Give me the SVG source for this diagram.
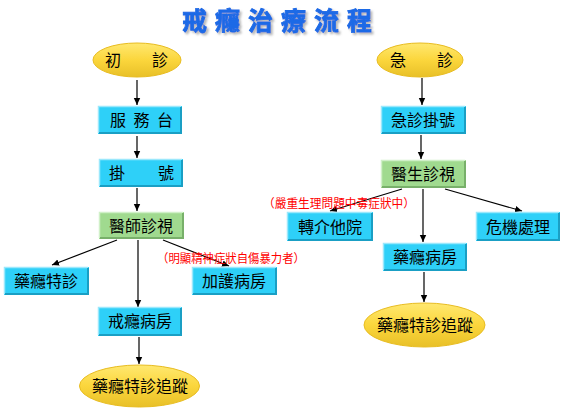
<svg xmlns="http://www.w3.org/2000/svg" width="568" height="417" viewBox="0 0 568 417">
<style>
.lbl{font-family:"Noto Sans CJK TC","Noto Sans CJK SC",sans-serif;font-size:16px;fill:#000;text-anchor:middle}
.red{font-family:"Noto Sans CJK TC","Noto Sans CJK SC",sans-serif;font-size:12px;fill:#ff0000}
.box{fill:#2ed0f8}
.gbox{fill:#a0da8f}
.hi{fill:none;stroke:#9ae8fc;stroke-width:1.5}
.lo{fill:none;stroke:#1a9fc4;stroke-width:2}
.ghi{fill:none;stroke:#d0f0c8;stroke-width:1.5}
.glo{fill:none;stroke:#78b06a;stroke-width:2}
.ell{fill:url(#yg);stroke:#e8bc20;stroke-width:1}
.con line{stroke:#000;stroke-width:1.2;marker-end:url(#ah)}
.title{font-family:"Noto Sans CJK TC","Noto Sans CJK SC",sans-serif;font-size:25px;font-weight:bold;fill:#1e6ae6;stroke:#1e6ae6;stroke-width:0.9}
</style>
<defs>
<marker id="ah" markerWidth="8" markerHeight="8" refX="7" refY="4" orient="auto" markerUnits="userSpaceOnUse">
<path d="M0,0.8 L7,4 L0,7.2 Z" fill="#000"/>
</marker>
<linearGradient id="yg" x1="0" y1="0" x2="0" y2="1">
<stop offset="0" stop-color="#ffe870"/>
<stop offset="0.5" stop-color="#fbd63c"/>
<stop offset="1" stop-color="#e8c028"/>
</linearGradient>
<filter id="sh" x="-10%" y="-30%" width="120%" height="160%">
<feDropShadow dx="2" dy="2" stdDeviation="1" flood-color="#999999" flood-opacity="0.7"/>
</filter>
</defs>
<rect width="568" height="417" fill="#fff"/>
<g id="title">
<text class="title" x="182" y="30" filter="url(#sh)" textLength="190" lengthAdjust="spacing">戒 癮 治 療 流 程</text>
</g>
<g class="con" id="connectors">
<line x1="137" y1="80" x2="137" y2="105"/>
<line x1="137" y1="136" x2="137" y2="158"/>
<line x1="137" y1="188" x2="137" y2="211"/>
<line x1="117" y1="240" x2="52" y2="265"/>
<line x1="163" y1="240" x2="229" y2="266"/>
<line x1="138" y1="240" x2="138" y2="307"/>
<line x1="139" y1="337" x2="139" y2="364"/>
<line x1="422" y1="78" x2="422" y2="105"/>
<line x1="421" y1="135" x2="421" y2="159"/>
<line x1="402" y1="189" x2="330" y2="211"/>
<line x1="445" y1="189" x2="522" y2="211"/>
<line x1="423" y1="189" x2="423" y2="242"/>
<line x1="424" y1="272" x2="424" y2="302"/>
</g>
<g id="n_chuzhen">
<ellipse class="ell" cx="137" cy="60" rx="44" ry="17"/>
<text class="lbl" x="105" y="66" style="text-anchor:start" textLength="63" lengthAdjust="spacing">初　　診</text>
</g>
<g id="n_fuwutai">
<rect class="box" x="98" y="106" width="84" height="28"/>
<polyline class="hi" points="98.5,133 98.5,106.5 181,106.5"/>
<polyline class="lo" points="99,133 181,133 181,107"/>
<text class="lbl" x="110" y="126" style="text-anchor:start" textLength="63" lengthAdjust="spacing">服 務 台</text>
</g>
<g id="n_guahao">
<rect class="box" x="99" y="159" width="84" height="28"/>
<polyline class="hi" points="99.5,186 99.5,159.5 182,159.5"/>
<polyline class="lo" points="100,186 182,186 182,160"/>
<text class="lbl" x="109" y="179" style="text-anchor:start" textLength="65" lengthAdjust="spacing">掛　　號</text>
</g>
<g id="n_yishi">
<rect class="gbox" x="99" y="212" width="85" height="27"/>
<polyline class="ghi" points="99.5,238 99.5,212.5 183,212.5"/>
<polyline class="glo" points="100,238 183,238 183,213"/>
<text class="lbl" x="141" y="232">醫師診視</text>
</g>
<g id="n_teizhen">
<rect class="box" x="4" y="267" width="85" height="28"/>
<polyline class="hi" points="4.5,294 4.5,267.5 88,267.5"/>
<polyline class="lo" points="5,294 88,294 88,268"/>
<text class="lbl" x="46" y="287">藥癮特診</text>
</g>
<g id="n_jiahu">
<rect class="box" x="192" y="267" width="85" height="28"/>
<polyline class="hi" points="192.5,294 192.5,267.5 276,267.5"/>
<polyline class="lo" points="193,294 276,294 276,268"/>
<text class="lbl" x="234" y="287">加護病房</text>
</g>
<text class="red" x="157" y="263" textLength="148" lengthAdjust="spacingAndGlyphs">（明顯精神症狀自傷暴力者）</text>
<g id="n_jieyin">
<rect class="box" x="98" y="307" width="84" height="29"/>
<polyline class="hi" points="98.5,335 98.5,307.5 181,307.5"/>
<polyline class="lo" points="99,335 181,335 181,308"/>
<text class="lbl" x="140" y="327">戒癮病房</text>
</g>
<g id="n_zhuizong1">
<ellipse class="ell" cx="139.5" cy="386" rx="60" ry="21"/>
<text class="lbl" x="140" y="392">藥癮特診追蹤</text>
</g>
<g id="n_jizhen">
<ellipse class="ell" cx="420" cy="60" rx="43" ry="17"/>
<text class="lbl" x="390" y="66" style="text-anchor:start" textLength="63" lengthAdjust="spacing">急　　診</text>
</g>
<g id="n_jizhenguahao">
<rect class="box" x="381" y="106" width="85" height="28"/>
<polyline class="hi" points="381.5,133 381.5,106.5 465,106.5"/>
<polyline class="lo" points="382,133 465,133 465,107"/>
<text class="lbl" x="423" y="126">急診掛號</text>
</g>
<g id="n_yisheng">
<rect class="gbox" x="381" y="160" width="85" height="28"/>
<polyline class="ghi" points="381.5,187 381.5,160.5 465,160.5"/>
<polyline class="glo" points="382,187 465,187 465,161"/>
<text class="lbl" x="423" y="180">醫生診視</text>
</g>
<text class="red" x="263" y="208" textLength="152" lengthAdjust="spacingAndGlyphs">（嚴重生理問題中毒症狀中）</text>
<g id="n_zhuanjie">
<rect class="box" x="287" y="212" width="86" height="29"/>
<polyline class="hi" points="287.5,240 287.5,212.5 372,212.5"/>
<polyline class="lo" points="288,240 372,240 372,213"/>
<text class="lbl" x="330" y="233">轉介他院</text>
</g>
<g id="n_weiji">
<rect class="box" x="476" y="212" width="84" height="29"/>
<polyline class="hi" points="476.5,240 476.5,212.5 559,212.5"/>
<polyline class="lo" points="477,240 559,240 559,213"/>
<text class="lbl" x="518" y="233">危機處理</text>
</g>
<g id="n_yaoyin">
<rect class="box" x="383" y="243" width="84" height="28"/>
<polyline class="hi" points="383.5,270 383.5,243.5 466,243.5"/>
<polyline class="lo" points="384,270 466,270 466,244"/>
<text class="lbl" x="425" y="263">藥癮病房</text>
</g>
<g id="n_zhuizong2">
<ellipse class="ell" cx="424.5" cy="325" rx="60.5" ry="22"/>
<text class="lbl" x="425" y="331">藥癮特診追蹤</text>
</g>
</svg>
